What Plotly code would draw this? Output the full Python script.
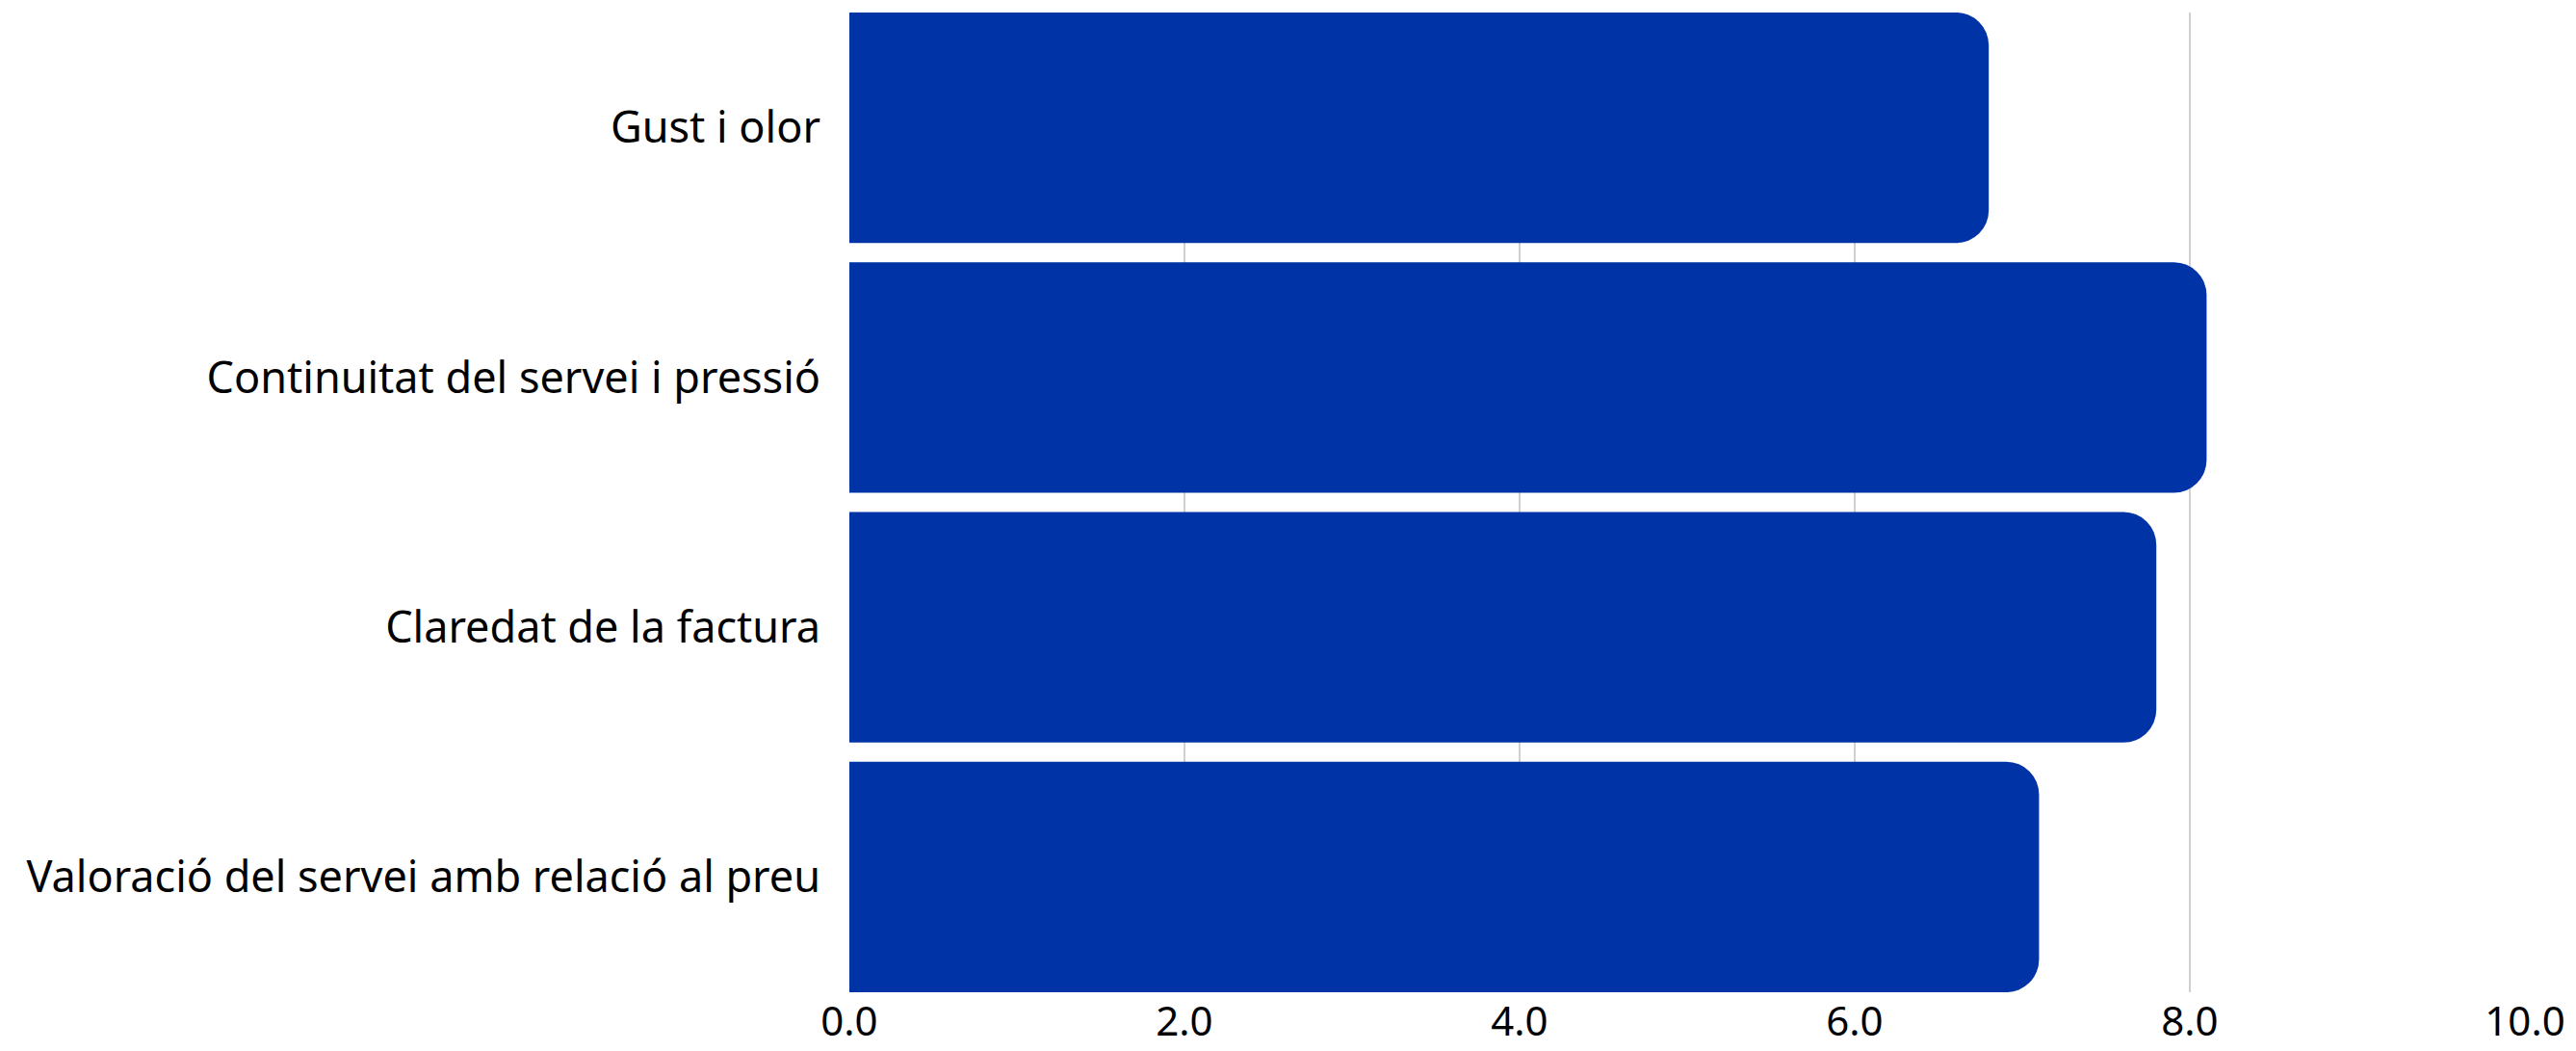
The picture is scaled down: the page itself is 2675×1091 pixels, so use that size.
import plotly.graph_objects as go

categories = [
    "Gust i olor",
    "Continuitat del servei i pressió",
    "Claredat de la factura",
    "Valoració del servei amb relació al preu",
]
values = [6.8, 8.1, 7.8, 7.1]
tick_vals = [0, 2, 4, 6, 8, 10]
tick_text = ["0.0", "2.0", "4.0", "6.0", "8.0", "10.0"]

FONT = "Noto Sans, Open Sans, sans-serif"

fig = go.Figure(
    go.Bar(
        x=values,
        y=categories,
        orientation="h",
        marker=dict(color="#0033A6", line=dict(width=0)),
        hoverinfo="skip",
    )
)

fig.update_layout(
    width=2675,
    height=1091,
    margin=dict(l=882, r=53, t=13, b=61, autoexpand=False),
    paper_bgcolor="white",
    plot_bgcolor="white",
    bargap=0.077,
    barcornerradius=34,
    showlegend=False,
    font=dict(family=FONT, color="#000000", size=45),
)

fig.update_xaxes(
    range=[0, 10],
    tickvals=tick_vals,
    ticktext=tick_text,
    showgrid=True,
    gridcolor="#d0d0d0",
    gridwidth=2,
    zeroline=False,
    showline=False,
    ticks="",
    ticklabelstandoff=2,
    tickfont=dict(family=FONT, size=42, color="#000000"),
    automargin=False,
)

fig.update_yaxes(
    categoryorder="array",
    categoryarray=categories,
    range=[3.4614, -0.4614],
    showgrid=False,
    zeroline=False,
    showline=False,
    ticks="",
    ticklabelstandoff=29,
    tickfont=dict(family=FONT, size=45, color="#000000"),
    automargin=False,
)

fig.write_html("out.html")
